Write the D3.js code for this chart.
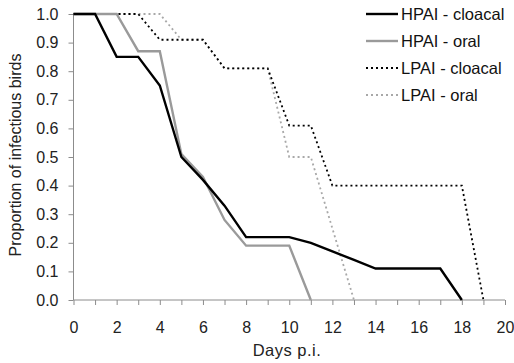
<!DOCTYPE html>
<html><head><meta charset="utf-8">
<script src="https://cdn.jsdelivr.net/npm/d3@7/dist/d3.min.js"></script>
<style>body{margin:0;background:#fff}svg{display:block;font-family:"Liberation Sans",Arial,sans-serif}</style>
</head><body><svg id="c" width="514" height="363"></svg>
<script>
const hpaiCloacalDays = [0,1,2,3,4,5,6,7,8,9,10,11,12,13,14,15,16,17,18];
const hpaiCloacal     = [1,1,0.85,0.85,0.75,0.5,0.42,0.33,0.22,0.22,0.22,0.2,0.17,0.14,0.11,0.11,0.11,0.11,0];
const hpaiOralDays    = [0,1,2,3,4,5,6,7,8,9,10,11];
const hpaiOral        = [1,1,1,0.87,0.87,0.51,0.43,0.28,0.19,0.19,0.19,0];
const lpaiCloacalDays = [0,1,2,3,4,5,6,7,8,9,10,11,12,13,14,15,16,17,18,19];
const lpaiCloacal     = [1,1,1,1,0.91,0.91,0.91,0.81,0.81,0.81,0.61,0.61,0.4,0.4,0.4,0.4,0.4,0.4,0.4,0];
const lpaiOralDays    = [0,1,2,3,4,5,6,7,8,9,10,11,13];
const lpaiOral        = [1,1,1,1,1,0.91,0.91,0.81,0.81,0.81,0.5,0.5,0];
const seriesNames = ["HPAI - cloacal","HPAI - oral","LPAI - cloacal","LPAI - oral"];
const xTicks = [0,2,4,6,8,10,12,14,16,18,20];
const yTicks = [0,0.1,0.2,0.3,0.4,0.5,0.6,0.7,0.8,0.9,1.0];

const svg = d3.select("#c");
const x = d3.scaleLinear().domain([0,20]).range([73.5,505]);
const y = d3.scaleLinear().domain([0,1]).range([300,14]);
const axisColor = "#8c8c8c";
const FONT = "Liberation Sans, Arial, sans-serif";

// y axis
const ya = svg.append("g").attr("transform","translate(73.5,0)")
  .call(d3.axisLeft(y).tickValues(yTicks).tickFormat(d3.format(".1f")).tickSize(5).tickPadding(10));
ya.select(".domain").attr("stroke",axisColor).attr("d","M0,"+y(1)+"V"+y(0));
ya.selectAll(".tick line").attr("stroke",axisColor);
ya.selectAll("text").attr("font-size",16).attr("fill","#222").attr("font-family",FONT);

// x axis
const xa = svg.append("g").attr("transform","translate(0,300)")
  .call(d3.axisBottom(x).tickValues(d3.range(0,21,1)).tickFormat(d=> xTicks.includes(d)? d : "").tickSize(5).tickPadding(17));
xa.select(".domain").attr("stroke",axisColor).attr("d","M"+x(0)+",0H"+x(20));
xa.selectAll(".tick line").attr("stroke",axisColor);
xa.selectAll("text").attr("font-size",16).attr("fill","#222").attr("font-family",FONT);

svg.append("text").attr("x",287).attr("y",356).attr("text-anchor","middle").attr("font-size",16.5).attr("letter-spacing",0.5).attr("fill","#222").text("Days p.i.");
svg.append("text").attr("transform","translate(21,155) rotate(-90)").attr("text-anchor","middle").attr("font-size",16).attr("fill","#222").text("Proportion of infectious birds");

const styles = [
  {stroke:"#000", width:2.4, dash:null},
  {stroke:"#9a9a9a", width:2.4, dash:null},
  {stroke:"#000", width:1.8, dash:"2,3"},
  {stroke:"#a8a8a8", width:1.8, dash:"2,3"}
];
const data = [
  [hpaiCloacalDays,hpaiCloacal],
  [hpaiOralDays,hpaiOral],
  [lpaiCloacalDays,lpaiCloacal],
  [lpaiOralDays,lpaiOral]
];
const line = d3.line().x(d=>x(d[0])).y(d=>y(d[1]));
[3,2,1,0].forEach(i=>{
  const pts = data[i][0].map((d,j)=>[d,data[i][1][j]]);
  svg.append("path").attr("d",line(pts)).attr("fill","none")
    .attr("stroke",styles[i].stroke).attr("stroke-width",styles[i].width)
    .attr("stroke-dasharray",styles[i].dash).attr("stroke-linejoin","miter");
});

// legend
const lg = svg.append("g");
seriesNames.forEach((n,i)=>{
  const yy = 14 + i*27;
  lg.append("line").attr("x1",366).attr("x2",398).attr("y1",yy).attr("y2",yy)
    .attr("stroke",styles[i].stroke).attr("stroke-width",styles[i].width).attr("stroke-dasharray",styles[i].dash);
  lg.append("text").attr("x",401).attr("y",yy+6).attr("font-size",16.5).attr("fill","#111").text(n);
});
</script></body></html>
